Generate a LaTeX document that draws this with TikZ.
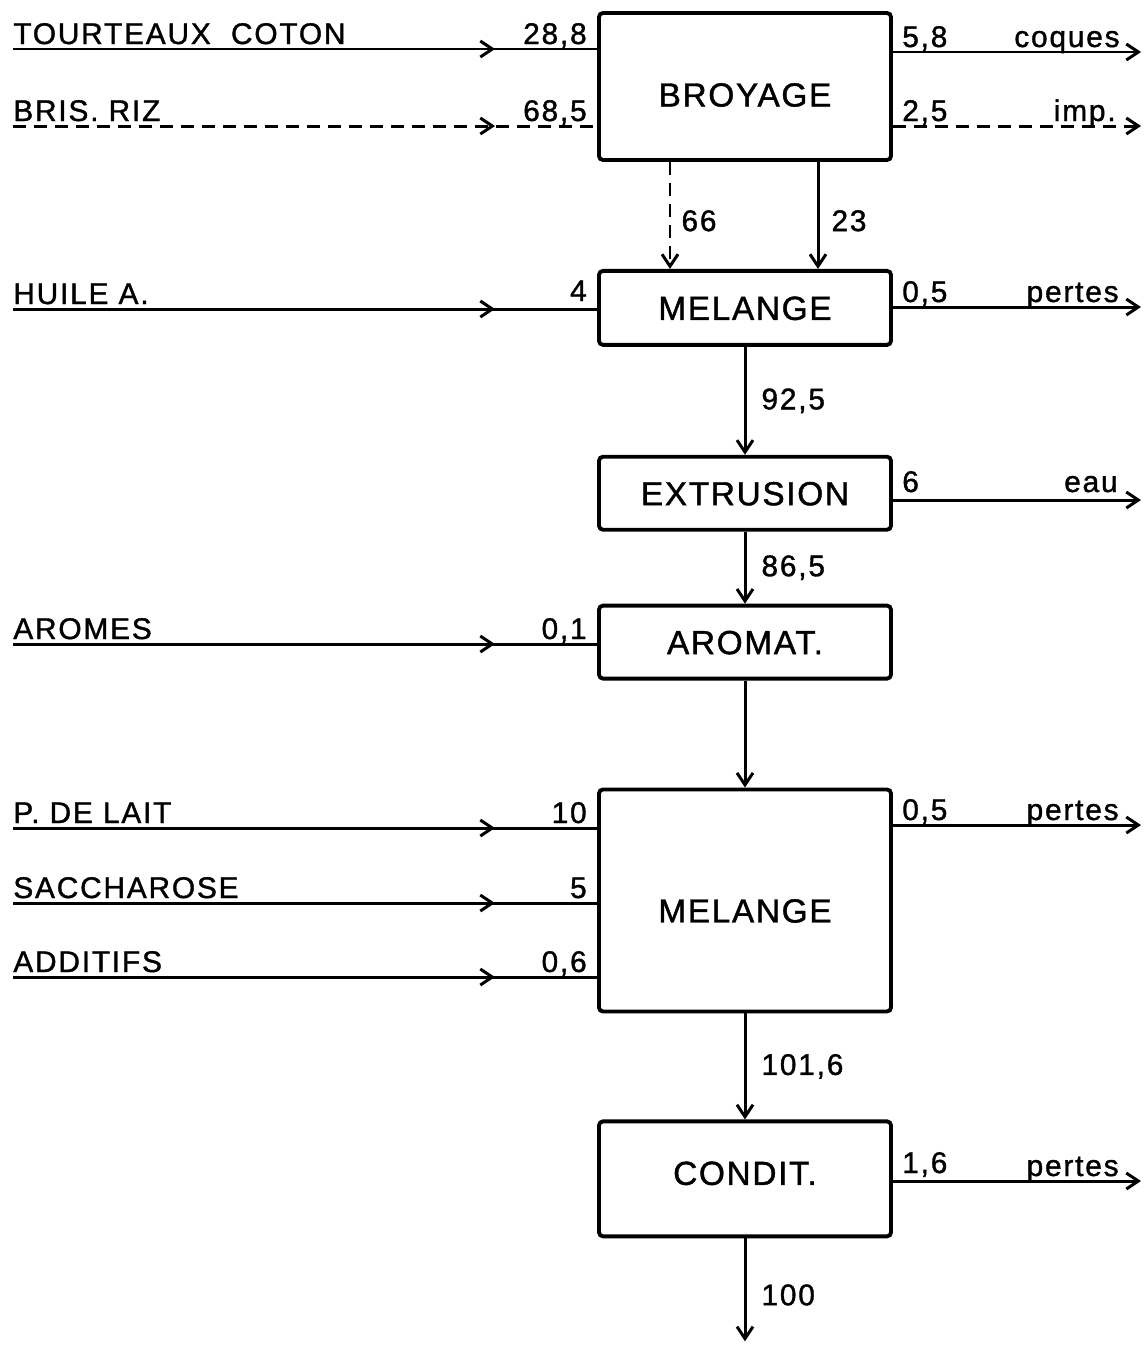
\documentclass[tikz,border=0pt]{standalone}
\usepackage{fontspec}
\newfontfamily\procfont[LetterSpace=5, FakeBold=1.2]{Liberation Sans}
\newfontfamily\flowfont[LetterSpace=6, FakeBold=1.2]{Liberation Sans}
\usetikzlibrary{positioning, arrows.meta, decorations.markings}

\begin{document}
\begin{tikzpicture}[
  x=0.2mm, y=-0.2mm,
  node distance=21.4mm,
  >={Straight Barb[length=2.4mm, width=3.2mm]},
  proc/.style={rectangle, draw, line width=2.2pt, rounded corners=0.8mm,
               minimum width=58.4mm, inner sep=0pt,
               text height=4.8mm, text depth=0pt,
               font=\procfont\fontsize{19pt}{22pt}\selectfont},
  flow/.style={line width=1.7pt},
  brisure/.style={dash pattern=on 2.6mm off 1.6mm},
  midarr/.style={postaction=decorate, decoration={markings,
                 mark=at position 96.4mm with {\arrow{>}}}},
  lbl/.style={font=\flowfont\fontsize{17pt}{20pt}\selectfont,
              inner sep=0pt, anchor=base west, yshift=1mm},
  num/.style={lbl, anchor=base east, xshift=-2mm},
  vnum/.style={font=\flowfont\fontsize{17pt}{20pt}\selectfont,
               inner sep=0pt, right=3mm},
]
\useasboundingbox (0,0) rectangle (1148,1345);
% Etapas del proceso (columna central)
\node[proc, minimum height=29.4mm, text height=8mm] (broy) at (745,86.5) {BROYAGE};
\node[proc, minimum height=14.8mm, below=of broy]         (mel1) {MELANGE};
\node[proc, minimum height=14.6mm, below=21.6mm of mel1]  (extr) {EXTRUSION};
\node[proc, minimum height=14.6mm, below=14.4mm of extr]  (arom) {AROMAT.};
\node[proc, minimum height=44.4mm, text height=8.8mm, below=of arom] (mel2) {MELANGE};
\node[proc, minimum height=23mm, text height=2.4mm, below=21.2mm of mel2] (cond) {CONDIT.};
% Entradas (izquierda)
\coordinate (tcin) at (13,49);
\coordinate (riin) at (13,126);
\coordinate (huin) at (13,309);
\coordinate (arin) at (13,644);
\coordinate (plin) at (13,828);
\coordinate (sain) at (13,903);
\coordinate (adin) at (13,977);
% Salidas (derecha)
\coordinate (coq) at (1141,52);
\coordinate (imp) at (1141,126);
\coordinate (pe1) at (1141,307);
\coordinate (eau) at (1141,500);
\coordinate (pe2) at (1141,825);
\coordinate (pe3) at (1141,1181);
\coordinate[below=20.6mm of cond.south] (fin);
% Nombres de las entradas
\node[lbl] (tc) at (tcin) {TOURTEAUX\ \ COTON};
\node[lbl] (ri) at (riin) {BRIS. RIZ};
\node[lbl] (hu) at (huin) {HUILE A.};
\node[lbl] (ar) at (arin) {AROMES};
\node[lbl] (pl) at (plin) {P. DE LAIT};
\node[lbl] (sa) at (sain) {SACCHAROSE};
\node[lbl] (ad) at (adin) {ADDITIFS};
% Flechas de entrada
\draw[flow, midarr] (tcin) -- (tcin -| broy.west);
\draw[flow, brisure, midarr] (riin) -- (riin -| broy.west);
\draw[flow, midarr] (huin) -- (huin -| mel1.west);
\draw[flow, midarr] (arin) -- (arin -| arom.west);
\draw[flow, midarr] (plin) -- (plin -| mel2.west);
\draw[flow, midarr] (sain) -- (sain -| mel2.west);
\draw[flow, midarr] (adin) -- (adin -| mel2.west);
\node[num] (v288) at (tcin -| broy.west) {28,8};
\node[num] (v685) at (riin -| broy.west) {68,5};
\node[num, yshift=0.6mm] (v4) at (huin -| mel1.west) {4};
\node[num] (v01) at (arin -| arom.west) {0,1};
\node[num] (v10) at (plin -| mel2.west) {10};
\node[num] (v5) at (sain -| mel2.west) {5};
\node[num] (v06) at (adin -| mel2.west) {0,6};
% Flechas de salida
\draw[flow, ->] (coq -| broy.east) -- (coq);
\draw[flow, brisure, ->] (imp -| broy.east) -- (imp);
\draw[flow, ->] (pe1 -| mel1.east) -- (pe1);
\draw[flow, ->] (eau -| extr.east) -- (eau);
\draw[flow, ->] (pe2 -| mel2.east) -- (pe2);
\draw[flow, ->] (pe3 -| cond.east) -- (pe3);
\node[lbl, xshift=1.8mm] (v58) at (coq -| broy.east) {5,8};
\node[lbl, xshift=1.8mm] (v25) at (imp -| broy.east) {2,5};
\node[lbl, xshift=1.8mm] (v05a) at (pe1 -| mel1.east) {0,5};
\node[lbl, xshift=1.8mm, yshift=0.6mm] (v6) at (eau -| extr.east) {6};
\node[lbl, xshift=1.8mm] (v05b) at (pe2 -| mel2.east) {0,5};
\node[lbl, xshift=1.8mm, yshift=0.6mm] (v16) at (pe3 -| cond.east) {1,6};
\node[lbl, anchor=base east, xshift=-4.2mm] (coques) at (coq) {coques};
\node[lbl, anchor=base east, xshift=-5mm] (impur) at (imp) {imp.};
\node[lbl, anchor=base east, xshift=-4.4mm] (pertes1) at (pe1) {pertes};
\node[lbl, anchor=base east, xshift=-4.6mm, yshift=0.6mm] (eaulbl) at (eau) {eau};
\node[lbl, anchor=base east, xshift=-4.4mm] (pertes2) at (pe2) {pertes};
\node[lbl, anchor=base east, xshift=-4.4mm] (pertes3) at (pe3) {pertes};
% Flujo principal hacia abajo
\draw[flow, brisure, ->] ([xshift=-15mm]broy.south) -- ([xshift=-15mm]mel1.north)
  node[vnum, right=2mm, pos=0.55] (v66) {66};
\draw[flow, ->] ([xshift=14.6mm]broy.south) -- ([xshift=14.6mm]mel1.north)
  node[vnum, right=2.4mm, pos=0.55] (v23) {23};
\draw[flow, ->] (mel1) -- (extr) node[vnum, midway] (v925) {92,5};
\draw[flow, ->] (extr) -- (arom) node[vnum, midway] (v865) {86,5};
\draw[flow, ->] (arom) -- (mel2);
\draw[flow, ->] (mel2) -- (cond) node[vnum, midway] (v1016) {101,6};
\draw[flow, ->] (cond) -- (fin) node[vnum, pos=0.55] (v100) {100};
\end{tikzpicture}
\end{document}
